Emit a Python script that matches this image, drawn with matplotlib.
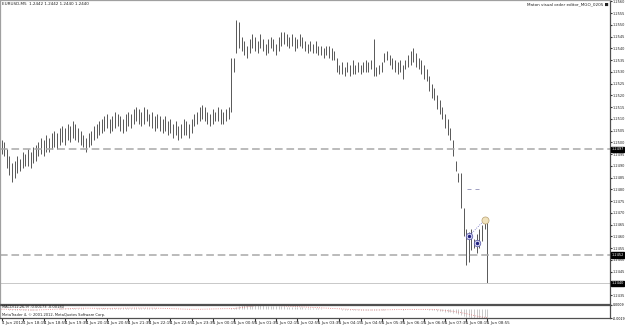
import numpy as np
import pandas as pd
import matplotlib
matplotlib.use("Agg")
import matplotlib.pyplot as plt

plt.rcParams['font.family'] = ['Liberation Sans Narrow', 'DejaVu Sans']

# ---- EURUSD M5 bars (high / low) ----
highs = [
    1.2501, 1.2500, 1.2497, 1.2494, 1.2491, 1.2492, 1.2494, 1.2493,
    1.2496, 1.2495, 1.2497, 1.2496, 1.2498, 1.2499,
    1.2500, 1.2502, 1.2501, 1.2503, 1.2502, 1.2504,
    1.2505, 1.2504, 1.2506,
    1.2507, 1.2506, 1.2508, 1.2507, 1.2509, 1.2508, 1.2506, 1.2505,
    1.2503, 1.2502, 1.2504, 1.2505,
    1.2507, 1.2508, 1.2509,
    1.2510, 1.2511, 1.2512, 1.2510, 1.2511, 1.2513, 1.2512, 1.2511, 1.2510, 1.2512, 1.2513, 1.2512,
    1.2514, 1.2515, 1.2514, 1.2513, 1.2515, 1.2514,
    1.2512, 1.2513, 1.2511, 1.2512, 1.2511,
    1.2510, 1.2511, 1.2509, 1.2510, 1.2508, 1.2509, 1.2507, 1.2508, 1.2510, 1.2509, 1.2508, 1.2510,
    1.2512, 1.2513, 1.2515, 1.2516, 1.2515, 1.2513, 1.2512, 1.2514, 1.2513, 1.2515, 1.2514, 1.2513, 1.2514, 1.2515,
    1.2536, 1.2536, 1.2552, 1.2551,
    1.2545, 1.2543, 1.2541, 1.2544,
    1.2546, 1.2545, 1.2543, 1.2546, 1.2544, 1.2542, 1.2544, 1.2545,
    1.2544, 1.2542, 1.2545, 1.2547, 1.2547,
    1.2546, 1.2545, 1.2546, 1.2545, 1.2544, 1.2546, 1.2545,
    1.2543, 1.2542, 1.2543, 1.2542, 1.2543, 1.2541,
    1.2541, 1.2540, 1.2541, 1.2541, 1.2540, 1.2539,
    1.2536,
    1.2533, 1.2534, 1.2532, 1.2534, 1.2533, 1.2535, 1.2533,
    1.2534, 1.2533, 1.2534, 1.2535, 1.2534, 1.2535, 1.2544,
    1.2532, 1.2533, 1.2534,
    1.2538, 1.2539, 1.2537,
    1.2536, 1.2535, 1.2534, 1.2535, 1.2533,
    1.2535, 1.2537, 1.2539, 1.2540, 1.2538, 1.2536,
    1.2535, 1.2533, 1.2531,
    1.2528, 1.2525, 1.2523,
    1.2520, 1.2518, 1.2515,
    1.2512, 1.2510, 1.2506,
    1.2501, 1.2492, 1.2487, 1.2487, 1.2472, 1.2463, 1.2462, 1.2463, 1.2459, 1.2461, 1.2463, 1.2465, 1.2468, 1.2467,
]
lows = [
    1.2495, 1.2494, 1.2489, 1.2486, 1.2483, 1.2485, 1.2487, 1.2488,
    1.2489, 1.2490, 1.2490, 1.2489, 1.2491, 1.2492,
    1.2494, 1.2495, 1.2494, 1.2496, 1.2496, 1.2497,
    1.2498, 1.2497, 1.2499,
    1.2500, 1.2499, 1.2501, 1.2500, 1.2502, 1.2501, 1.2500, 1.2499,
    1.2498, 1.2496, 1.2498, 1.2499,
    1.2501, 1.2502, 1.2503,
    1.2504, 1.2505, 1.2506, 1.2504, 1.2505, 1.2506, 1.2507, 1.2505, 1.2504, 1.2505, 1.2507, 1.2506,
    1.2508, 1.2509, 1.2508, 1.2507, 1.2508, 1.2509,
    1.2507, 1.2506, 1.2505, 1.2506, 1.2505,
    1.2504, 1.2505, 1.2503, 1.2504, 1.2502, 1.2503, 1.2501, 1.2502, 1.2503, 1.2503, 1.2502, 1.2504,
    1.2507, 1.2508, 1.2509, 1.2510, 1.2509, 1.2508, 1.2507, 1.2508, 1.2509, 1.2509, 1.2508, 1.2508, 1.2509, 1.2510,
    1.2513, 1.2530, 1.2538, 1.2540,
    1.2539, 1.2537, 1.2536, 1.2538,
    1.2540, 1.2539, 1.2538, 1.2540, 1.2539, 1.2537, 1.2538, 1.2540,
    1.2539, 1.2537, 1.2539, 1.2541, 1.2542,
    1.2541, 1.2540, 1.2541, 1.2539, 1.2540, 1.2541, 1.2540,
    1.2539, 1.2538, 1.2539, 1.2538, 1.2538, 1.2537,
    1.2537, 1.2536, 1.2537, 1.2536, 1.2535, 1.2535,
    1.2530,
    1.2529, 1.2529, 1.2528, 1.2530, 1.2528, 1.2529, 1.2529,
    1.2530, 1.2529, 1.2530, 1.2530, 1.2530, 1.2531, 1.2528,
    1.2528, 1.2529, 1.2530,
    1.2534, 1.2535, 1.2533,
    1.2531, 1.2530, 1.2529, 1.2530, 1.2527,
    1.2531, 1.2532, 1.2533, 1.2534, 1.2532, 1.2531,
    1.2529, 1.2527, 1.2526,
    1.2522, 1.2519, 1.2518,
    1.2514, 1.2512, 1.2510,
    1.2506, 1.2503, 1.2501,
    1.2494, 1.2488, 1.2483, 1.2472, 1.2460, 1.2448, 1.2449, 1.2454, 1.2455, 1.2453, 1.2455, 1.2458, 1.2463, 1.2440,
]

time_labels = [
    "4 Jun 2012", "4 Jun 18:15", "4 Jun 18:55", "4 Jun 19:35", "4 Jun 20:15",
    "4 Jun 20:55", "4 Jun 21:35", "4 Jun 22:15", "4 Jun 22:55", "4 Jun 23:35",
    "5 Jun 00:15", "5 Jun 00:55", "5 Jun 01:35", "5 Jun 02:15", "5 Jun 02:55",
    "5 Jun 03:35", "5 Jun 04:15", "5 Jun 04:55", "5 Jun 05:35", "5 Jun 06:15",
    "5 Jun 06:55", "5 Jun 07:35", "5 Jun 08:15", "5 Jun 08:55",
]
LABEL_EVERY = 8  # bars between time labels

dashed_levels = [1.2497, 1.2452]
bid_price = 1.2440
buy_bars = [177, 180]
buy_prices = [1.2460, 1.2457]
close_bar = 183
close_price = 1.2467
stop_bars = [177, 180]
stop_price = 1.2480

title_text = "EURUSD,M5  1.2442 1.2442 1.2440 1.2440"
ea_text = "Maton visual order editor_MGO_0205 \u25a0"

W, H = 625, 325
BAR_PX = 2.64

fig = plt.figure(figsize=(W / 100, H / 100), dpi=100)
fig.patch.set_facecolor("white")
ax = fig.add_axes([0, 21 / H, 610 / W, 304 / H])
axi = fig.add_axes([0, 7 / H, 610 / W, 13 / H], sharex=ax)

x = np.arange(len(highs))
ax.vlines(x, lows, highs, color="#4c4c4c", lw=0.65)

for lvl in dashed_levels:
    ax.axhline(lvl, color="#a8a8a8", lw=1.1, ls=(0, (5, 2.5)))
ax.axhline(bid_price, color="#c8c8c8", lw=0.7)

# trade markers
ax.plot([buy_bars[0], close_bar], [buy_prices[0], close_price], ls=":", color="#6a6ac0", lw=0.6)
ax.scatter(buy_bars, buy_prices, s=22, facecolor="#d4d4ee", edgecolor="#5050a8", lw=0.5, zorder=5)
ax.scatter(buy_bars, buy_prices, s=2, color="#202080", zorder=6)
ax.scatter([close_bar], [close_price], s=26, facecolor="#f0e2bc", edgecolor="#b8a070", lw=0.5, zorder=5)
ax.scatter(stop_bars, [stop_price] * len(stop_bars), marker="_", s=6, color="#9090b8", lw=0.6)

ax.set_xlim(-1.5 / BAR_PX, (610 - 1.5) / BAR_PX)
ax.set_ylim(1.24312, 1.256055)

# right price scale; the bid label replaces its grid label
price_ticks = [round(p, 4) for p in np.arange(1.2435, 1.25601, 0.0005) if abs(p - bid_price) > 0.0001]
ax.yaxis.tick_right()
ax.set_yticks(price_ticks)
ax.set_yticklabels([f"{p:.4f}" for p in price_ticks])
ax.tick_params(axis="y", labelsize=2.5, length=1.5, pad=0.4, color="#333333", labelcolor="#222222")
ax.tick_params(axis="x", bottom=False, labelbottom=False)

for lvl in dashed_levels + [bid_price]:
    ax.annotate(f"{lvl:.4f}", xy=(1, lvl), xycoords=("axes fraction", "data"),
                xytext=(1.0, 0), textcoords="offset points", fontsize=2.5, color="white",
                va="center", ha="left",
                bbox=dict(boxstyle="square,pad=0.2", fc="black", ec="black"))

ax.text(0.004, 0.992, title_text, transform=ax.transAxes, fontsize=3, va="top", ha="left", color="#222222")
ax.text(0.997, 0.992, ea_text, transform=ax.transAxes, fontsize=3, va="top", ha="right", color="#222222")

for name, sp in ax.spines.items():
    sp.set_color("#505050" if name in ("right", "bottom") else "#a0a0a0")
    sp.set_linewidth(0.9)

# ---- MACD(12,26,9) on median price ----
med = (pd.Series(highs) + pd.Series(lows)) / 2
macd = med.ewm(span=12, adjust=False).mean() - med.ewm(span=26, adjust=False).mean()
signal = macd.rolling(9, min_periods=1).mean()

axi.vlines(x, 0, macd, color="#c0c0c0", lw=0.6)
axi.plot(x, signal, color="#e07a7a", ls=":", lw=0.6)
lo, hi = float(min(macd.min(), signal.min())), float(max(macd.max(), signal.max()))
axi.set_ylim(lo, hi)
axi.yaxis.tick_right()
axi.set_yticks([hi, lo])
axi.set_yticklabels([f"{hi:.4f}", f"{lo:.4f}"])
axi.tick_params(axis="y", labelsize=2.3, length=1.5, pad=0.4, color="#333333")
axi.text(0.004, 0.98, f"MACD(12,26,9) {macd.iloc[-1]:.5f} {signal.iloc[-1]:.5f}",
         transform=axi.transAxes, fontsize=2.6, va="top", ha="left", color="#222222")
axi.text(0.004, 0.05, "MetaTrader 4, \u00a9 2001-2012, MetaQuotes Software Corp.",
         transform=axi.transAxes, fontsize=2.6, va="bottom", ha="left", color="#222222")

axi.set_xticks(np.arange(len(time_labels)) * LABEL_EVERY)
axi.set_xticklabels(time_labels, ha="left")
axi.tick_params(axis="x", labelsize=2.9, length=2, pad=0.5, color="#333333", labelcolor="#222222")
for name, sp in axi.spines.items():
    sp.set_color("#505050" if name in ("right", "bottom", "top") else "#a0a0a0")
    sp.set_linewidth(0.9)

fig.savefig("out.png", dpi=100, facecolor="white")
